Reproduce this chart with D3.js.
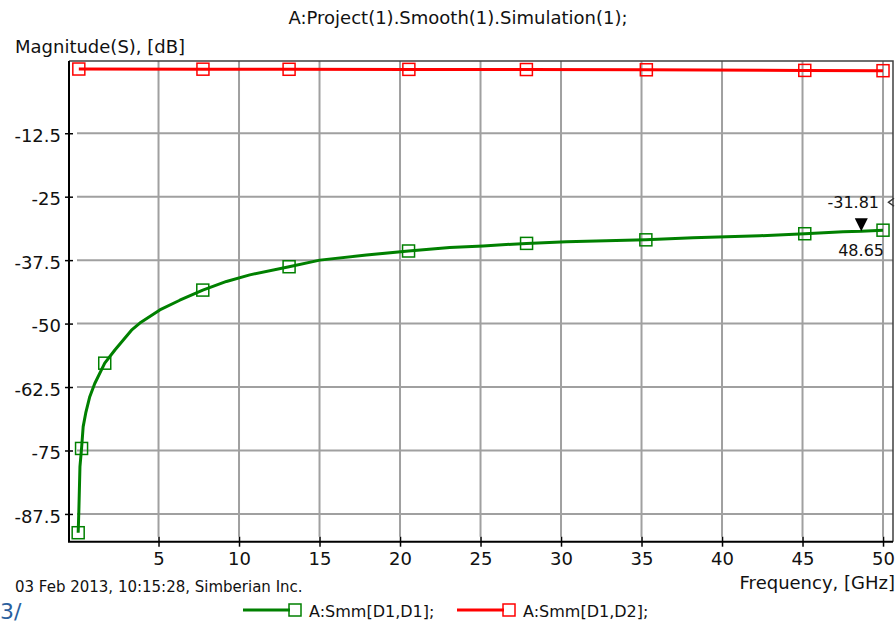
<!DOCTYPE html>
<html>
<head>
<meta charset="utf-8">
<script src="https://cdn.jsdelivr.net/npm/d3@7"></script>
<style>
  html, body { margin: 0; padding: 0; background: #fff; }
  svg { display: block; font-family: 'DejaVu Sans', sans-serif; }
</style>
</head>
<body>
<div id="chart"></div>
<script>
// values
const titleText = 'A:Project(1).Smooth(1).Simulation(1);';
const yLabelText = 'Magnitude(S), [dB]';
const xLabelText = 'Frequency, [GHz]';
const stampText = '03 Feb 2013, 10:15:28, Simberian Inc.';

const xTicks = [5, 10, 15, 20, 25, 30, 35, 40, 45, 50];
const yTicks = [-12.5, -25, -37.5, -50, -62.5, -75, -87.5];

// Smm[D1,D1]
const freqD1D1 = [0.01, 0.05, 0.12, 0.22, 0.32, 0.48, 0.73, 1.04, 1.66, 2.29, 3.32, 3.84, 5.08, 6.32, 7.75,
  9.22, 10.67, 13.11, 15.02, 17.92, 20.53, 23.09, 25.16, 27.86, 30.34, 35.27, 38.2, 42.35, 45.14, 47.52, 48.65, 50];
const magD1D1 = [-91.2, -87.1, -78.2, -74.6, -70.3, -67.6, -64.4, -61.8, -57.8, -55.2, -51.3, -49.9, -47.3, -45.4, -43.4,
  -41.7, -40.4, -38.8, -37.5, -36.5, -35.7, -35.0, -34.7, -34.2, -33.9, -33.5, -33.1, -32.7, -32.3, -31.9, -31.81, -31.6];
const markerFreqD1D1 = [0.01, 0.22, 1.66, 7.75, 13.11, 20.53, 27.86, 35.27, 45.14, 50];

// Smm[D1,D2]
const freqD1D2 = [0.05, 7.76, 13.11, 20.55, 27.85, 35.3, 45.14, 50];
const magD1D2 = [0.15, 0.12, 0.1, 0.08, 0.05, 0.0, -0.12, -0.18];

// marker readout
const cursorFreq = 48.65;
const cursorMag = -31.81;

const series = [
  { name: 'A:Smm[D1,D1];', color: '#008000', freq: freqD1D1, mag: magD1D1, markers: markerFreqD1D1 },
  { name: 'A:Smm[D1,D2];', color: '#ff0000', freq: freqD1D2, mag: magD1D2, markers: freqD1D2 },
];

const width = 895, height = 623;
const plot = { l: 69, r: 893, t: 61, b: 541.7 };
// plain hyphen minus, like the original
const fmt = (d) => String(d);
const fmt2 = (d) => d.toFixed(2);

const svg = d3.select('#chart').append('svg')
  .attr('width', width)
  .attr('height', height);

svg.append('rect')
  .attr('width', width)
  .attr('height', height)
  .attr('fill', '#fff');

const x = d3.scaleLinear().domain([-0.56, 50.62]).range([plot.l, plot.r]);
const y = d3.scaleLinear().domain([-92.97, 1.73]).range([plot.b, plot.t]);

// grids
svg.append('g')
  .attr('class', 'x-grid')
  .selectAll('line')
  .data(xTicks)
  .join('line')
    .attr('x1', (d) => x(d))
    .attr('x2', (d) => x(d))
    .attr('y1', plot.t)
    .attr('y2', plot.b - 5)
    .attr('stroke', '#a0a0a0')
    .attr('stroke-width', 2);
svg.append('g')
  .attr('class', 'y-grid')
  .selectAll('line')
  .data(yTicks)
  .join('line')
    .attr('y1', (d) => y(d))
    .attr('y2', (d) => y(d))
    .attr('x1', plot.l + 8)
    .attr('x2', plot.r)
    .attr('stroke', '#a0a0a0')
    .attr('stroke-width', 2);

// frame: top & right thin, left & bottom are the axes
svg.append('path')
  .attr('d', `M${plot.l},${plot.t}H${plot.r}V${plot.b}`)
  .attr('fill', 'none')
  .attr('stroke', '#404040')
  .attr('stroke-width', 1.5);

// curves
const line = d3.line().x((d) => x(d[0])).y((d) => y(d[1]));
const curves = svg.append('g').attr('class', 'curves');
series.forEach((s) => {
  const pts = s.freq.map((f, i) => [f, s.mag[i]]);
  curves.append('path')
    .datum(pts)
    .attr('d', line)
    .attr('fill', 'none')
    .attr('stroke', s.color)
    .attr('stroke-width', 3)
    .attr('stroke-linejoin', 'round');
  const marks = pts.filter((p) => s.markers.includes(p[0]));
  curves.append('g')
    .selectAll('rect')
    .data(marks)
    .join('rect')
      .attr('x', (d) => x(d[0]) - 6)
      .attr('y', (d) => y(d[1]) - 6)
      .attr('width', 12)
      .attr('height', 12)
      .attr('fill', 'none')
      .attr('stroke', s.color)
      .attr('stroke-width', 1.5);
});

// axes
const yAxis = svg.append('g')
  .attr('class', 'y-axis')
  .attr('transform', `translate(${plot.l},0)`)
  .call(d3.axisLeft(y).tickValues(yTicks).tickFormat(fmt).tickSize(4).tickPadding(4))
  .call((g) => g.select('.domain').remove());
yAxis.selectAll('.tick line').attr('x2', 4).attr('x1', -4).attr('stroke', '#000').attr('stroke-width', 1.5);
yAxis.selectAll('.tick text').attr('dy', '0.45em').attr('fill', '#111')
  .style('font-family', 'DejaVu Sans').style('font-size', '18px');

const xAxis = svg.append('g')
  .attr('class', 'x-axis')
  .attr('transform', `translate(0,${plot.b})`)
  .call(d3.axisBottom(x).tickValues(xTicks).tickFormat(fmt).tickSize(5).tickPadding(6))
  .call((g) => g.select('.domain').remove());
xAxis.selectAll('.tick line').attr('y1', -5).attr('y2', 5).attr('stroke', '#000').attr('stroke-width', 1.5);
xAxis.selectAll('.tick text').attr('fill', '#111')
  .style('font-family', 'DejaVu Sans').style('font-size', '18px');

svg.append('path')
  .attr('d', `M${plot.l},${plot.t}V${plot.b}H${plot.r}`)
  .attr('fill', 'none')
  .attr('stroke', '#000')
  .attr('stroke-width', 2);

// cursor readout
const cx = x(cursorFreq), cy = y(cursorMag);
svg.append('path')
  .attr('d', `M${cx - 6.5},${cy - 13}L${cx + 6.5},${cy - 13}L${cx},${cy}Z`)
  .attr('fill', '#000');
svg.append('text')
  .attr('x', 879).attr('y', cy - 23)
  .attr('text-anchor', 'end')
  .attr('font-size', 16).attr('fill', '#111')
  .text(fmt2(cursorMag));
svg.append('text')
  .attr('x', 884).attr('y', cy + 25)
  .attr('text-anchor', 'end')
  .attr('font-size', 16).attr('fill', '#111')
  .text(fmt2(cursorFreq));
svg.append('path')
  .attr('d', `M894,${cy - 33}L888.5,${cy - 29}L894,${cy - 25}`)
  .attr('fill', 'none')
  .attr('stroke', '#333')
  .attr('stroke-width', 1.5);

// texts
svg.append('text')
  .attr('x', 458).attr('y', 24)
  .attr('text-anchor', 'middle')
  .attr('font-size', 18).attr('fill', '#111')
  .text(titleText);
svg.append('text')
  .attr('x', 15).attr('y', 53)
  .attr('font-size', 18).attr('fill', '#111')
  .text(yLabelText);
svg.append('text')
  .attr('x', 895).attr('y', 589)
  .attr('text-anchor', 'end')
  .attr('font-size', 18).attr('fill', '#111')
  .text(xLabelText);
svg.append('text')
  .attr('x', 15).attr('y', 592)
  .attr('font-size', 15).attr('fill', '#111')
  .text(stampText);
svg.append('text')
  .attr('x', 0).attr('y', 619)
  .attr('font-size', 22).attr('fill', '#2b5f9e')
  .text('3/');

// legend
const legendX = [243, 457];
const legend = svg.append('g').attr('class', 'legend');
series.forEach((s, i) => {
  const lx = legendX[i];
  legend.append('line')
    .attr('x1', lx).attr('x2', lx + 47)
    .attr('y1', 610).attr('y2', 610)
    .attr('stroke', s.color).attr('stroke-width', 3);
  legend.append('rect')
    .attr('x', lx + 46).attr('y', 604)
    .attr('width', 12).attr('height', 12)
    .attr('fill', 'none')
    .attr('stroke', s.color).attr('stroke-width', 1.5);
  legend.append('text')
    .attr('x', lx + 66).attr('y', 617)
    .attr('font-size', 16).attr('fill', '#111')
    .text(s.name);
});
</script>
</body>
</html>
